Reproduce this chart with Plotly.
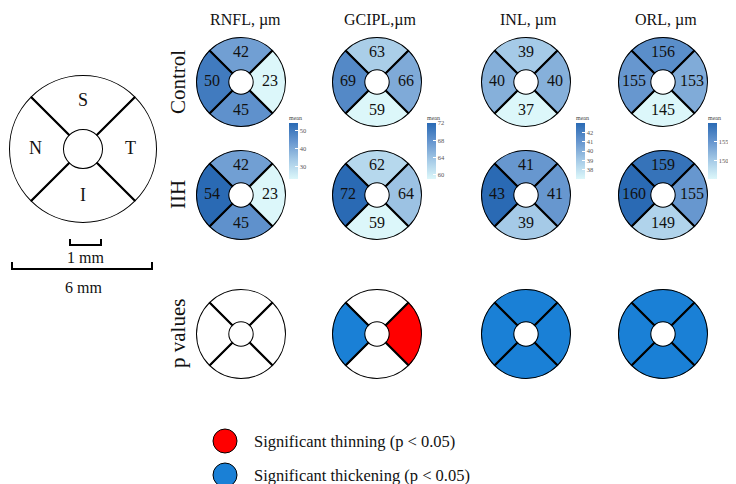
import plotly.graph_objects as go

W, H = 736, 484

# ---------------- data ----------------
layers = ["RNFL", "GCIPL", "INL", "ORL"]
layer_titles = ["RNFL, µm", "GCIPL,µm", "INL, µm", "ORL, µm"]
row_labels = ["Control", "IIH", "p values"]
sectors = ["S", "T", "I", "N"]          # superior, temporal, inferior, nasal
sector_theta = [90, 0, 270, 180]

rnfl_control = [42, 23, 45, 50]
rnfl_iih = [42, 23, 45, 54]
gcipl_control = [63, 66, 59, 69]
gcipl_iih = [62, 64, 59, 72]
inl_control = [39, 40, 37, 40]
inl_iih = [41, 41, 39, 43]
orl_control = [156, 153, 145, 155]
orl_iih = [159, 155, 149, 160]

# p-value result per sector: "ns", "thin", "thick"
rnfl_p = ["ns", "ns", "ns", "ns"]
gcipl_p = ["ns", "thin", "ns", "thick"]
inl_p = ["thick", "thick", "thick", "thick"]
orl_p = ["thick", "thick", "thick", "thick"]

rnfl_ticks = [30, 40, 50]
gcipl_ticks = [60, 64, 68, 72]
inl_ticks = [38, 39, 40, 41, 42]
orl_ticks = [150, 155]

legend_labels = ["Significant thinning (p < 0.05)", "Significant thickening (p < 0.05)"]

# ---------------- styles ----------------
FONT = "Liberation Serif"
p_colors = {"ns": "white", "thin": "#ff0000", "thick": "#1a80d6"}
blues = [[0, "#dcf7fa"], [0.33, "#a6cbe7"], [0.5, "#86b0da"], [0.67, "#6696cf"], [1, "#2a6ab4"]]

col_x = [233, 369, 518, 655]
row_y = [74, 187, 326]
ring_r = 45
cbar_x = [281, 419, 568, 700]
title_x = [237, 372, 520, 658]

controls = [rnfl_control, gcipl_control, inl_control, orl_control]
iihs = [rnfl_iih, gcipl_iih, inl_iih, orl_iih]
pvals = [rnfl_p, gcipl_p, inl_p, orl_p]
ticks = [rnfl_ticks, gcipl_ticks, inl_ticks, orl_ticks]

fig = go.Figure()
layout_polars = {}
pid = [0]


def dom(cx, cy, r):
    return dict(x=[(cx - r) / W, (cx + r) / W], y=[1 - (cy + r) / H, 1 - (cy - r) / H])


def add_ring(cx, cy, r, colors=None, values=None, cmin=None, cmax=None,
             labels=None, label_size=16, hole=0.26, colorbar=None):
    pid[0] += 1
    name = "polar" if pid[0] == 1 else f"polar{pid[0]}"
    layout_polars[name] = dict(
        domain=dom(cx, cy, r), hole=hole, bgcolor="rgba(0,0,0,0)",
        radialaxis=dict(visible=False, range=[0, 1]),
        angularaxis=dict(visible=False, rotation=0, direction="counterclockwise"),
    )
    marker = dict(line=dict(color="black", width=2))
    if values is not None:
        marker.update(color=values, colorscale=blues, cmin=cmin, cmax=cmax)
        if colorbar is not None:
            marker["colorbar"] = colorbar
            marker["showscale"] = True
        else:
            marker["showscale"] = False
    else:
        marker["color"] = colors
    fig.add_trace(go.Barpolar(r=[1] * 4, theta=sector_theta, width=[90] * 4,
                              marker=marker, subplot=name, showlegend=False,
                              hoverinfo="skip"))
    if labels is not None:
        fig.add_trace(go.Scatterpolar(r=[0.52] * 4, theta=sector_theta, mode="text",
                                      text=labels, subplot=name, showlegend=False,
                                      textfont=dict(family=FONT, size=label_size, color="#111"),
                                      hoverinfo="skip"))


# left schematic
add_ring(75, 141, 74, colors=["white"] * 4, labels=sectors, label_size=18, hole=0.257)

for i in range(4):
    lo = min(controls[i] + iihs[i])
    hi = max(controls[i] + iihs[i])
    cb = dict(
        title=dict(text="mean", side="top", font=dict(family=FONT, size=6, color="#444")),
        thickness=9, thicknessmode="pixels", len=67, lenmode="pixels",
        x=cbar_x[i] / W, xanchor="left", y=1 - 104 / H, yanchor="top",
        xpad=0, ypad=0, tickvals=ticks[i], ticks="inside", tickcolor="white", ticklen=3,
        tickfont=dict(family=FONT, size=6.5, color="#555"), outlinewidth=0, borderwidth=0,
    )
    add_ring(col_x[i], row_y[0], ring_r, values=controls[i], cmin=lo, cmax=hi,
             labels=[str(v) for v in controls[i]], colorbar=cb)
    add_ring(col_x[i], row_y[1], ring_r, values=iihs[i], cmin=lo, cmax=hi,
             labels=[str(v) for v in iihs[i]])
    add_ring(col_x[i], row_y[2], ring_r, colors=[p_colors[p] for p in pvals[i]])

# legend markers
legend_y = [433, 467]
fig.add_trace(go.Scatter(x=[217, 217], y=legend_y, mode="markers",
                         marker=dict(size=24, color=[p_colors["thin"], p_colors["thick"]],
                                     line=dict(color="black", width=1)),
                         showlegend=False, hoverinfo="skip"))

annotations = []
for i, t in enumerate(layer_titles):
    annotations.append(dict(x=title_x[i], y=12, text=t, showarrow=False,
                            font=dict(family=FONT, size=16, color="#111")))
for j, t in enumerate(row_labels):
    annotations.append(dict(x=170, y=row_y[j], text=t, showarrow=False, textangle=-90,
                            font=dict(family=FONT, size=21, color="#111")))
for k, t in enumerate(legend_labels):
    annotations.append(dict(x=244, y=legend_y[k], text=t, showarrow=False, xanchor="left",
                            font=dict(family=FONT, size=16.5, color="#111")))
annotations.append(dict(x=77, y=249, text="1 mm", showarrow=False,
                        font=dict(family=FONT, size=16, color="#111")))
annotations.append(dict(x=75, y=279, text="6 mm", showarrow=False,
                        font=dict(family=FONT, size=16, color="#111")))

shapes = [
    dict(type="path", path="M 62 231 L 62 237 L 93 237 L 93 231",
         line=dict(color="black", width=2), xref="x", yref="y"),
    dict(type="path", path="M 4 254 L 4 261 L 144 261 L 144 254",
         line=dict(color="black", width=2), xref="x", yref="y"),
]
for a in annotations:
    a.update(xref="x", yref="y")

fig.update_layout(
    width=W, height=H, margin=dict(l=0, r=0, t=0, b=0),
    paper_bgcolor="white", plot_bgcolor="white",
    xaxis=dict(range=[0, W], visible=False, domain=[0, 1], fixedrange=True),
    yaxis=dict(range=[H, 0], visible=False, domain=[0, 1], fixedrange=True),
    annotations=annotations, shapes=shapes, showlegend=False,
    **layout_polars,
)

fig.write_html("out.html")
